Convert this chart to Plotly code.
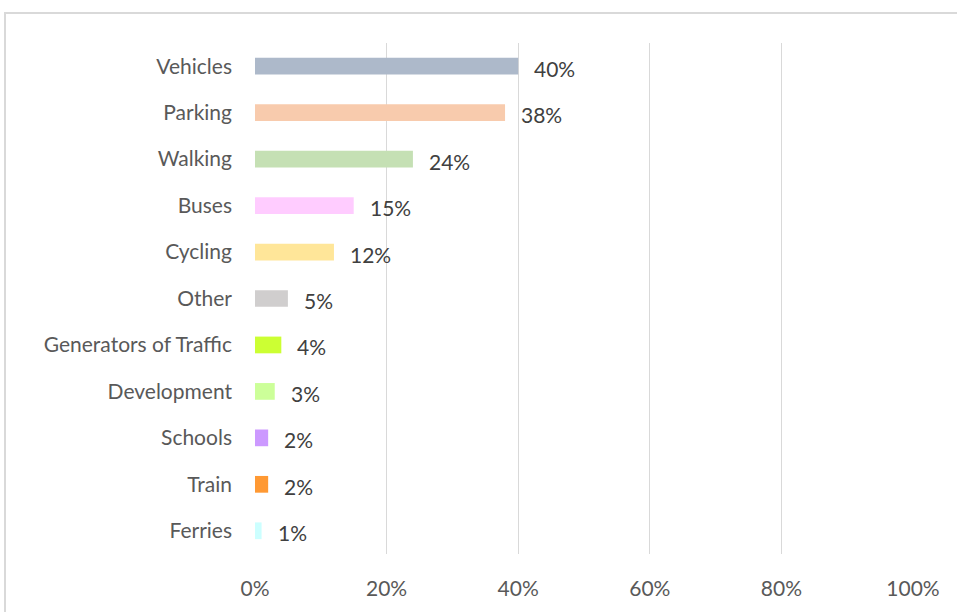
import plotly.graph_objects as go

# Categories listed top to bottom
categories = ["Vehicles", "Parking", "Walking", "Buses", "Cycling", "Other",
              "Generators of Traffic", "Development", "Schools", "Train", "Ferries"]
shares = [40, 38, 24, 15, 12, 5, 4, 3, 2, 2, 1]
colors = ["#ADB9CA", "#F8CBAD", "#C5E0B4", "#FFCCFF", "#FFE699", "#D0CECE",
          "#CCFF33", "#CCFF99", "#CC99FF", "#FF9933", "#CCFFFF"]
x_ticks = [0, 20, 40, 60, 80, 100]
x_tick_labels = ["0%", "20%", "40%", "60%", "80%", "100%"]

FONT = "Lato"
FS = 21
W, H = 957, 612
L, R, T, B = 255, 44, 43, 56

fig = go.Figure(go.Bar(
    x=shares,
    y=categories,
    orientation="h",
    marker=dict(color=colors, line=dict(width=0)),
    width=0.36,
    hoverinfo="x+y",
))

# value labels to the right of each bar
for cat, v in zip(categories, shares):
    fig.add_annotation(x=v, y=cat, text=f"{v}%", showarrow=False,
                       xanchor="left", yanchor="middle", xshift=14, yshift=-2,
                       font=dict(family=FONT, size=FS, color="#404040"))

# light chart-area frame
pw, ph = W - L - R, H - T - B
fig.add_shape(type="rect", xref="paper", yref="paper",
              x0=(5 - L) / pw, x1=(W + 20 - L) / pw,
              y0=-(H + 20 - (H - B)) / ph, y1=1 + (T - 13) / ph,
              line=dict(color="#D9D9D9", width=2), fillcolor="rgba(0,0,0,0)",
              layer="below")

fig.update_layout(
    width=W, height=H,
    margin=dict(l=L, r=R, t=T, b=B),
    paper_bgcolor="white", plot_bgcolor="white",
    showlegend=False,
    font=dict(family=FONT, color="#595959"),
    xaxis=dict(range=[0, 100], tickvals=x_ticks, ticktext=x_tick_labels,
               showgrid=True, gridcolor="#D9D9D9", gridwidth=1,
               zeroline=False, showline=False, ticks="",
               tickfont=dict(family=FONT, size=FS, color="#595959"),
               ticklabelstandoff=20, fixedrange=True),
    yaxis=dict(categoryorder="array", categoryarray=categories[::-1],
               range=[-0.5, len(categories) - 0.5],
               showgrid=False, zeroline=False, showline=False, ticks="",
               tickfont=dict(family=FONT, size=FS, color="#595959"),
               ticklabelstandoff=22, fixedrange=True),
)

fig.write_html("out.html")
